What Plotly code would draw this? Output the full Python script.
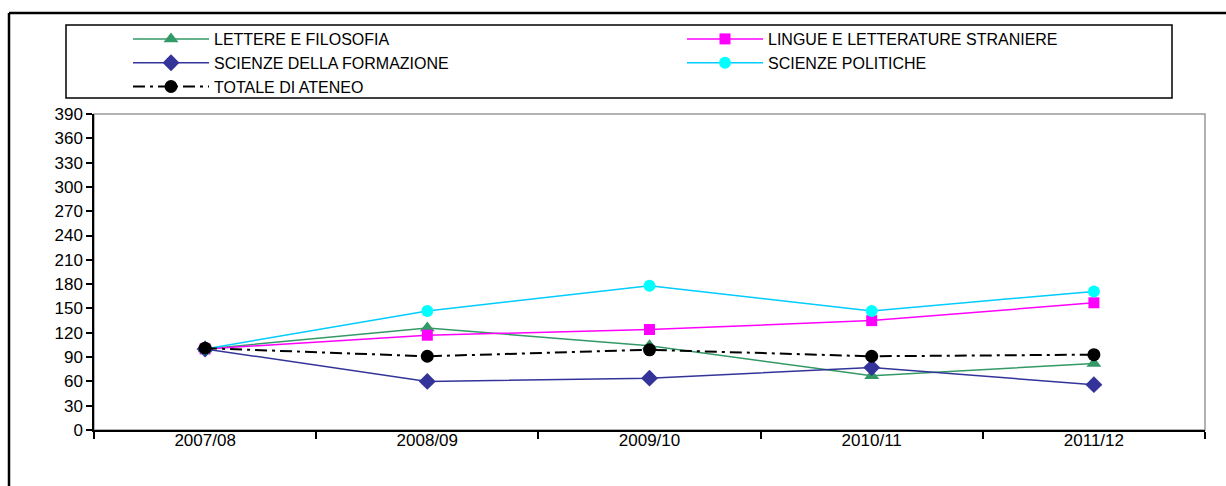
import plotly.graph_objects as go

years = ["2007/08", "2008/09", "2009/10", "2010/11", "2011/12"]
lettere = [100, 126, 104, 67, 82]
lingue = [100, 117, 124, 135, 157]
formazione = [100, 60, 64, 77, 56]
politiche = [100, 147, 178, 147, 171]
totale = [101, 91, 99, 91, 93]
y_ticks = list(range(0, 391, 30))

W, H = 1226, 486
L, R, T, B = 94, 1205, 114, 430

def px(x):
    return (x - L) / (R - L)

def py(y):
    return (B - y) / (B - T)

fig = go.Figure()
series = [
    ("LETTERE E FILOSOFIA", lettere, "#339966", "#339966", "triangle-up", 13, "solid", 1.5),
    ("LINGUE E LETTERATURE STRANIERE", lingue, "#FF00FF", "#FF00FF", "square", 11, "solid", 1.5),
    ("SCIENZE DELLA FORMAZIONE", formazione, "#333399", "#333399", "diamond", 13, "solid", 1.5),
    ("SCIENZE POLITICHE", politiche, "#00CCFF", "#00FFFF", "circle", 12, "solid", 1.5),
    ("TOTALE DI ATENEO", totale, "#000000", "#000000", "circle", 13, "12px,5px,3px,5px", 2),
]
for name, vals, lc, mc, sym, ms, dash, lw in series:
    fig.add_trace(go.Scatter(
        x=years, y=vals, name=name, mode="lines+markers",
        line=dict(color=lc, width=lw, dash=dash),
        marker=dict(symbol=sym, size=ms, color=mc, line=dict(width=0)),
    ))

shapes = [
    dict(type="rect", xref="paper", yref="paper", x0=0, x1=1, y0=0, y1=1,
         line=dict(color="#999999", width=1.5), layer="below"),
    dict(type="rect", xref="paper", yref="paper", x0=px(66), x1=px(1172), y0=py(98), y1=py(25),
         line=dict(color="#000000", width=1.5)),
    dict(type="line", xref="paper", yref="paper", x0=px(9), x1=px(9), y0=py(13), y1=py(490),
         line=dict(color="#000000", width=2.5)),
    dict(type="line", xref="paper", yref="paper", x0=px(9), x1=px(1230), y0=py(13), y1=py(13),
         line=dict(color="#000000", width=2.5)),
]

fig.update_layout(
    width=W, height=H,
    margin=dict(l=L, r=W - R, t=T, b=H - B, pad=0, autoexpand=False),
    paper_bgcolor="white", plot_bgcolor="white",
    font=dict(family="Liberation Sans, Arial, sans-serif", size=17, color="#000000"),
    shapes=shapes,
    showlegend=True,
    legend=dict(
        orientation="h", xref="container", yref="container",
        x=128 / W, y=1 - 22 / H, xanchor="left", yanchor="top",
        entrywidth=463, entrywidthmode="pixels",
        itemwidth=76, tracegroupgap=0,
        bgcolor="rgba(0,0,0,0)", borderwidth=0,
        font=dict(size=16, family="Liberation Sans, Arial, sans-serif"),
        traceorder="normal",
    ),
    xaxis=dict(
        type="category", range=[-0.5, 4.5], tickson="boundaries",
        ticks="outside", ticklen=7, tickwidth=1.5, tickcolor="#000000",
        showline=True, linecolor="#000000", linewidth=1.5,
        showgrid=False, zeroline=False, tickfont=dict(size=17),
        ticklabelstandoff=-6,
    ),
    yaxis=dict(
        range=[0, 390], tickvals=y_ticks, ticks="outside", ticklen=6,
        tickwidth=1.5, tickcolor="#000000",
        showline=True, linecolor="#000000", linewidth=1.5,
        showgrid=False, zeroline=False, tickfont=dict(size=17),
    ),
)

fig.write_html("out.html", config={"displayModeBar": False},
               post_script="document.body.style.margin='0px';")
